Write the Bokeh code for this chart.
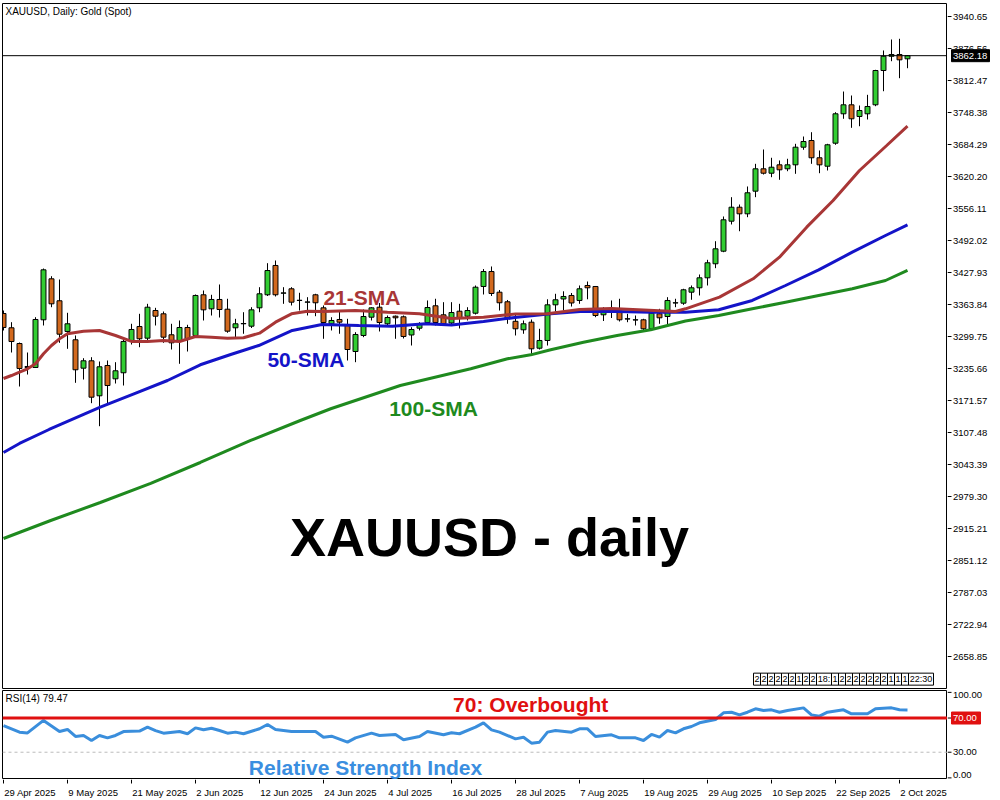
import numpy as np
from bokeh.plotting import figure
from bokeh.models import Range1d, Span, Label, ColumnDataSource
from bokeh.layouts import column, row
from bokeh.embed import file_html
from bokeh.resources import INLINE
from bokeh.core.properties import value

# ---------------- data ----------------
date_labels = ["29 Apr 2025", "9 May 2025", "21 May 2025", "2 Jun 2025", "12 Jun 2025",
               "24 Jun 2025", "4 Jul 2025", "16 Jul 2025", "28 Jul 2025", "7 Aug 2025",
               "19 Aug 2025", "29 Aug 2025", "10 Sep 2025", "22 Sep 2025", "2 Oct 2025"]
date_idx = [0, 8, 16, 24, 32, 40, 48, 56, 64, 72, 80, 88, 96, 104, 112]

opens = [3345.8, 3317.2, 3285.7, 3237.7, 3237.7, 3333.2, 3415.3, 3371.3, 3309.8, 3293.2,
         3236.3, 3251.1, 3181.0, 3241.7, 3215.0, 3227.1, 3291.2, 3319.8, 3296.4, 3351.8,
         3345.2, 3303.2, 3291.8, 3317.8, 3301.8, 3383.3, 3355.2, 3373.9, 3354.4, 3317.2,
         3325.2, 3320.4, 3357.2, 3383.3, 3442.0, 3386.5, 3395.3, 3371.9, 3368.5, 3383.3,
         3357.2, 3325.2, 3333.8, 3321.8, 3269.7, 3301.8, 3338.4, 3358.4, 3325.2, 3340.4,
         3339.2, 3302.8, 3316.4, 3327.8, 3361.3, 3343.2, 3326.8, 3350.4, 3340.4, 3346.4,
         3399.9, 3429.9, 3388.5, 3369.3, 3330.2, 3313.2, 3328.4, 3276.3, 3291.8, 3363.2,
         3374.9, 3381.9, 3371.9, 3401.9, 3399.9, 3343.2, 3351.2, 3350.8, 3334.8, 3332.8,
         3333.2, 3315.2, 3345.2, 3339.8, 3366.9, 3366.5, 3388.5, 3397.3, 3417.3, 3445.4,
         3470.6, 3530.7, 3558.7, 3545.5, 3590.8, 3635.6, 3626.8, 3643.6, 3635.6, 3643.6,
         3678.9, 3692.3, 3657.7, 3640.8, 3686.9, 3745.8, 3763.8, 3740.4, 3745.8, 3763.8,
         3832.5, 3861.1, 3864.5, 3855.9]
highs = [3351.8, 3328.4, 3287.7, 3267.7, 3338.4, 3435.9, 3420.5, 3413.9, 3347.2, 3301.8,
         3256.3, 3258.3, 3249.7, 3251.7, 3248.3, 3293.8, 3325.2, 3345.2, 3365.2, 3357.2,
         3349.8, 3325.2, 3331.8, 3323.2, 3383.9, 3391.9, 3383.3, 3403.9, 3375.3, 3335.2,
         3348.4, 3358.4, 3398.5, 3446.6, 3452.0, 3398.5, 3398.5, 3387.3, 3378.5, 3385.3,
         3361.9, 3338.4, 3349.8, 3335.2, 3308.4, 3353.8, 3358.4, 3366.9, 3341.8, 3341.8,
         3341.8, 3318.4, 3328.4, 3371.9, 3375.3, 3368.5, 3368.5, 3365.2, 3358.4, 3401.9,
         3434.9, 3440.0, 3392.9, 3372.9, 3344.8, 3331.8, 3333.8, 3315.2, 3374.3, 3385.3,
         3390.3, 3386.9, 3401.9, 3409.9, 3400.9, 3358.4, 3371.9, 3375.3, 3345.2, 3341.8,
         3335.2, 3351.8, 3355.2, 3378.5, 3375.3, 3395.3, 3401.9, 3423.9, 3453.4, 3490.6,
         3540.1, 3578.8, 3564.1, 3600.2, 3645.6, 3674.3, 3657.7, 3652.3, 3655.7, 3685.7,
         3700.3, 3708.9, 3672.3, 3685.7, 3749.0, 3790.4, 3782.4, 3762.4, 3783.8, 3833.9,
         3872.6, 3894.6, 3896.0, 3863.5]
lows = [3311.8, 3267.7, 3199.6, 3223.6, 3236.7, 3321.8, 3358.4, 3287.1, 3275.1, 3207.0,
        3213.6, 3166.2, 3120.1, 3163.0, 3205.6, 3201.6, 3283.7, 3278.3, 3289.8, 3321.8,
        3287.1, 3273.7, 3245.1, 3269.7, 3300.8, 3331.8, 3341.8, 3337.8, 3307.2, 3295.2,
        3305.2, 3316.8, 3348.4, 3380.9, 3379.9, 3365.2, 3361.9, 3351.8, 3341.8, 3340.4,
        3295.2, 3311.8, 3305.2, 3251.7, 3248.3, 3298.4, 3331.8, 3309.8, 3321.8, 3295.2,
        3295.8, 3281.7, 3311.8, 3325.2, 3321.8, 3321.8, 3321.8, 3315.8, 3331.8, 3343.8,
        3383.9, 3380.9, 3351.8, 3325.2, 3301.8, 3305.2, 3265.1, 3273.7, 3281.7, 3349.8,
        3351.8, 3359.8, 3365.2, 3374.3, 3338.4, 3330.8, 3336.8, 3329.8, 3328.4, 3321.8,
        3311.8, 3311.8, 3325.2, 3321.8, 3358.4, 3363.2, 3373.3, 3381.9, 3401.9, 3436.6,
        3468.6, 3524.1, 3510.6, 3538.7, 3578.8, 3624.2, 3618.8, 3613.6, 3630.8, 3625.6,
        3673.7, 3645.6, 3626.8, 3632.2, 3683.7, 3735.8, 3717.7, 3720.9, 3734.4, 3761.0,
        3791.0, 3851.1, 3817.1, 3837.1]
closes = [3317.8, 3289.7, 3235.7, 3239.7, 3333.8, 3433.3, 3365.2, 3304.4, 3325.2, 3233.1,
          3251.1, 3178.2, 3239.1, 3201.6, 3231.1, 3289.8, 3313.8, 3295.2, 3358.4, 3340.4,
          3298.4, 3287.1, 3317.8, 3295.2, 3381.9, 3353.2, 3373.9, 3353.8, 3310.4, 3325.2,
          3325.8, 3353.2, 3385.3, 3431.9, 3383.3, 3387.0, 3368.5, 3372.3, 3368.9, 3367.3,
          3327.8, 3331.8, 3328.4, 3273.7, 3303.8, 3339.8, 3357.2, 3327.8, 3337.8, 3337.2,
          3299.8, 3313.8, 3325.2, 3357.8, 3327.8, 3325.2, 3347.8, 3337.2, 3351.8, 3398.5,
          3429.9, 3385.9, 3367.3, 3335.2, 3315.2, 3325.2, 3275.1, 3291.8, 3363.2, 3373.3,
          3379.9, 3366.9, 3395.3, 3397.3, 3341.8, 3348.8, 3351.8, 3333.2, 3335.2, 3333.2,
          3315.2, 3346.4, 3337.2, 3371.9, 3367.3, 3393.3, 3397.3, 3417.3, 3447.4, 3475.4,
          3533.5, 3558.7, 3545.5, 3587.6, 3635.6, 3626.8, 3638.8, 3633.6, 3643.6, 3678.9,
          3690.3, 3657.7, 3643.6, 3683.7, 3745.8, 3763.8, 3735.8, 3752.4, 3760.4, 3832.5,
          3861.1, 3864.5, 3853.9, 3862.18]

sma21_idx = [0, 1, 2, 3, 4, 5, 6, 7, 8, 10, 12, 14, 16, 18, 20, 22, 24, 26, 28, 30, 32, 34, 36, 38,
             40, 44, 48, 52, 56, 60, 64, 68, 72, 76, 80, 84, 85.25, 89.5, 93.7, 97, 100.4, 103.7,
             107, 110.4, 113]
sma21_val = [3215.6, 3221.6, 3228.2, 3235.1, 3245.1, 3265.1, 3281.7, 3295.2, 3305.2, 3310.4,
             3311.8, 3301.8, 3289.8, 3289.8, 3291.8, 3289.8, 3299.8, 3298.4, 3296.4, 3297.2,
             3306.4, 3328.4, 3345.2, 3350.4, 3349.8, 3351.8, 3348.4, 3345.2, 3335.8, 3338.4,
             3344.8, 3345.2, 3353.8, 3355.8, 3352.8, 3349.8, 3355.2, 3378.5, 3415.3, 3458.6,
             3518.7, 3572.1, 3632.2, 3682.3, 3720.9]

sma50_idx = [0, 2, 5.7, 12.1, 16.3, 20.5, 24.6, 28.4, 31.9, 36.1, 39.8, 44.4, 48.6, 52.75, 56,
             60, 64.2, 68.4, 72.5, 76.7, 80.9, 85.25, 89.4, 93.6, 97.75, 101.9, 106.1, 110.25, 113]
sma50_val = [3067.4, 3085.5, 3113.5, 3158.2, 3185.0, 3211.6, 3243.1, 3263.7, 3281.7, 3311.8,
             3323.8, 3321.8, 3320.4, 3325.2, 3322.8, 3329.8, 3338.4, 3345.2, 3350.4, 3349.8,
             3348.4, 3348.4, 3353.2, 3371.9, 3401.9, 3433.3, 3468.6, 3502.0, 3523.5]

sma100_idx = [0, 5.9, 12.1, 18.4, 24.6, 30.9, 37.1, 40.9, 49.6, 58.4, 63, 65.9, 68.4, 72.5, 76.7,
              80.9, 85.25, 89.4, 93.6, 97.75, 101.9, 106.1, 110.25, 113]
sma100_val = [2895.2, 2931.2, 2967.3, 3005.4, 3047.4, 3091.5, 3131.5, 3155.0, 3201.6, 3235.1,
              3255.1, 3263.0, 3273.1, 3288.3, 3301.8, 3313.2, 3330.8, 3341.8, 3355.2, 3368.5,
              3381.9, 3395.3, 3411.9, 3432.0]

rsi_idx = [0, 2, 3, 5, 7, 8, 9, 10, 11, 12, 13, 14, 15, 17, 18, 19, 20, 22, 23, 24, 25, 26, 27, 28,
           29, 30, 32, 33, 34, 36, 39, 40, 41, 43, 44, 46, 47, 49, 50, 52, 53, 55, 56, 57, 59, 60,
           61, 62, 64, 65, 66, 67, 68, 69, 71, 72, 73, 74, 76, 77, 79, 80, 81, 82, 83, 84, 85, 86,
           87, 89, 90, 91, 92, 93, 94, 95, 96, 97, 98, 100, 101, 102, 103, 105, 106, 108, 109,
           111, 112, 113]
rsi_val = [61.2, 53.5, 52.6, 67.2, 54.2, 56.6, 48.4, 49.6, 43.7, 49.6, 46.8, 49.6, 54.2, 54.7,
           59.3, 55.3, 52.3, 54.2, 51.6, 58.5, 56.2, 58.1, 55.4, 52.3, 53.5, 51.6, 57.4, 62.4,
           56.6, 54.2, 54.2, 47.6, 48.8, 41.8, 46.8, 52.3, 49.6, 50.8, 44.5, 48.4, 54.2, 50.4,
           52.7, 51.6, 59.3, 64.4, 56.2, 53.5, 45.6, 47.6, 40.6, 41.8, 53.5, 55.4, 53.5, 57.4,
           57.4, 48.4, 50.4, 46.8, 46.8, 43.7, 50.8, 47.6, 55.4, 52.7, 57.4, 60.1, 64.4, 68.3,
           76.1, 76.8, 73.7, 76.8, 80.8, 78.8, 79.6, 76.8, 78.8, 81.9, 73.7, 72.2, 76.8, 79.6,
           74.9, 74.9, 80.8, 81.9, 79.6, 79.5]

price_ticks = [2658.85, 2722.94, 2787.03, 2851.12, 2915.21, 2979.30, 3043.39, 3107.48, 3171.57,
               3235.66, 3299.75, 3363.84, 3427.93, 3492.02, 3556.11, 3620.20, 3684.29, 3748.38,
               3812.47, 3876.56, 3940.65]
rsi_ticks = [0, 30, 70, 100]
last_price = 3862.18
rsi_last_text = "RSI(14) 79.47"
time_boxes = ["2", "2", "2", "2", "2", "2", "1", "2", "2", "18:", "1", "2", "2", "2", "2", "2",
              "2", "2", "1", "1", "1", "22:30"]

# ---------------- styling / layout ----------------
FONT = "Liberation Sans"
TICK_FS = "9.5px"
UP = "#32CD32"
DOWN = "#D2691E"
X0, X1 = -0.125, 118.0
FW = 945          # price-area frame width (8 px per bar)
AXW = 50          # right axis strip width
MAIN_H = 685
RSI_H = 89
Y0, Y1 = 2594.76, 3966.69
R0, R1 = -1.9, 102.2


def base_fig(fw, fh, xr, yr, top, bottom, left, right):
    f = figure(frame_width=fw, frame_height=fh, x_range=xr, y_range=yr,
               x_axis_location=None, y_axis_location=None, toolbar_location=None,
               output_backend="svg", min_border_left=left, min_border_right=right,
               min_border_top=top, min_border_bottom=bottom)
    f.grid.visible = False
    f.border_fill_color = "white"
    f.background_fill_color = "white"
    return f


def lab(fig, x, y, text, size, color, bold=True, align="center", baseline="middle", **kw):
    fig.add_layout(Label(x=x, y=y, text=text, text_font=FONT, text_font_size=size,
                         text_color=color, text_font_style="bold" if bold else "normal",
                         text_align=align, text_baseline=baseline, **kw))


# ---- main price panel ----
xr = Range1d(X0, X1)
p = base_fig(FW, MAIN_H, xr, Range1d(Y0, Y1), 3, 1, 2, 0)
p.outline_line_color = "black"
p.outline_line_alpha = 1.0

idx = np.arange(len(opens))
o = np.array(opens); h = np.array(highs); l = np.array(lows); c = np.array(closes)
up = c >= o

p.segment(x0=idx, y0=l, x1=idx, y1=h, line_color="black", line_width=1)
p.vbar(x=idx[up], width=0.62, bottom=o[up], top=c[up], fill_color=UP, line_color="black", line_width=1)
p.vbar(x=idx[~up], width=0.62, bottom=o[~up], top=c[~up], fill_color=DOWN, line_color="black", line_width=1)

p.line(sma100_idx, sma100_val, line_color="#1F8A1F", line_width=3)
p.line(sma50_idx, sma50_val, line_color="#1414C8", line_width=3)
p.line(sma21_idx, sma21_val, line_color="#A83636", line_width=3)

p.add_layout(Span(location=last_price, dimension="width", line_color="black", line_width=1))

lab(p, 44.8, 3377.9, "21-SMA", "21px", "#A83636")
lab(p, 37.8, 3253.7, "50-SMA", "21px", "#1414C8")
lab(p, 53.75, 3155.6, "100-SMA", "21px", "#1E8A1E")
lab(p, 60.75, 2897.2, "XAUUSD - daily", "54px", "black")
lab(p, X0, Y1, "XAUUSD, Daily:  Gold (Spot)", "10px", "black", bold=False,
    align="left", baseline="top", x_offset=3, y_offset=-2)

# time boxes at bottom right of the price panel
bx, bw = [], []
cur = 93.75
for t in time_boxes:
    w = (7.0 if len(t) == 1 else 5.0 * len(t)) / 8.0
    bx.append(cur + w / 2)
    bw.append(w)
    cur += w
bsrc = ColumnDataSource(dict(x=bx, w=bw, t=time_boxes, y=[2613.5] * len(bx)))
p.rect(x="x", y="y", width="w", height=12, height_units="screen", source=bsrc,
       fill_color="white", line_color="black", line_width=1)
p.text(x="x", y="y", text="t", source=bsrc, text_align="center", text_baseline="middle",
       text_font=value(FONT), text_font_size="9px", text_color="black")

# ---- price axis strip (right of the price panel) ----
ys = base_fig(AXW, MAIN_H, Range1d(0, AXW), p.y_range, 3, 1, 0, 0)
ys.outline_line_color = None
ys.segment(x0=[0] * len(price_ticks), y0=price_ticks, x1=[4] * len(price_ticks), y1=price_ticks,
           line_color="black", line_width=1)
ys.text(x=[5.5] * len(price_ticks), y=price_ticks, text=["%.2f" % v for v in price_ticks],
        text_align="left", text_baseline="middle", text_font=value(FONT),
        text_font_size=TICK_FS, text_color="black")
ys.rect(x=[23], y=[last_price], width=38, height=12, height_units="screen",
        fill_color="black", line_color="black")
ys.text(x=[5.5], y=[last_price], text=["%.2f" % last_price], text_align="left",
        text_baseline="middle", text_font=value(FONT), text_font_size=TICK_FS,
        text_color="white")

# ---- RSI panel ----
r = base_fig(FW, RSI_H, xr, Range1d(R0, R1), 1, 0, 2, 0)
r.outline_line_color = "black"
r.add_layout(Span(location=30, dimension="width", line_color="#BBBBBB", line_width=1,
                  line_dash="3 3"))
r.add_layout(Span(location=70, dimension="width", line_color="#E01010", line_width=3))
r.line(rsi_idx, rsi_val, line_color="#3A8EDC", line_width=3)

lab(r, 65.9, 85.8, "70: Overbought", "21px", "#E01010")
lab(r, 45.25, 12.2, "Relative Strength Index", "21px", "#3A8EE0")
lab(r, X0, R1, rsi_last_text, "10px", "black", bold=False, align="left", baseline="top",
    x_offset=3, y_offset=-2)

# ---- RSI axis strip ----
rs = base_fig(AXW, RSI_H, Range1d(0, AXW), r.y_range, 1, 0, 0, 0)
rs.outline_line_color = None
rs.segment(x0=[0] * 4, y0=rsi_ticks, x1=[4] * 4, y1=rsi_ticks, line_color="black", line_width=1)
rbase = ["bottom" if v == min(rsi_ticks) else ("top" if v == max(rsi_ticks) else "middle")
         for v in rsi_ticks]
rsrc = ColumnDataSource(dict(x=[5.5] * 4, y=rsi_ticks, t=["%.2f" % v for v in rsi_ticks], b=rbase))
rs.text(x="x", y="y", text="t", text_baseline="b", source=rsrc, text_align="left",
        text_font=value(FONT), text_font_size=TICK_FS, text_color="black")
rs.rect(x=[18.5], y=[70], width=29, height=12, height_units="screen",
        fill_color="#E01010", line_color="#E01010")
rs.text(x=[5.5], y=[70], text=["70.00"], text_align="left", text_baseline="middle",
        text_font=value(FONT), text_font_size=TICK_FS, text_color="white")

# ---- date strip below everything ----
XS_W = FW + AXW
xs = base_fig(XS_W, 19, Range1d(X0, X0 + XS_W / 8.0), Range1d(-19, 0), 0, 0, 2, 0)
xs.outline_line_color = None
n = len(date_idx)
xs.segment(x0=date_idx, y0=[0] * n, x1=date_idx, y1=[-4] * n, line_color="black", line_width=1)
xs.text(x=[d + 0.1 for d in date_idx], y=[-13.3] * n, text=date_labels, text_align="left",
        text_baseline="alphabetic", text_font=value(FONT), text_font_size=TICK_FS,
        text_color="black")

layout = column(row(column(p, r), column(ys, rs)), xs)
open("out.html", "w").write(file_html(layout, INLINE, "XAUUSD Daily"))
